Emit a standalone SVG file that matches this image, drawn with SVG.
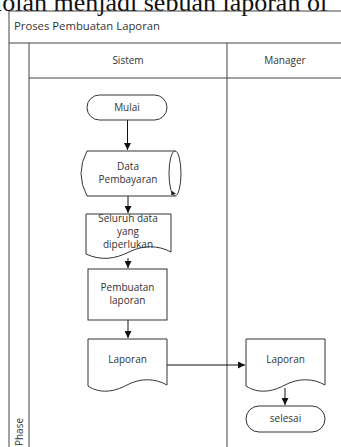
<svg xmlns="http://www.w3.org/2000/svg" width="341" height="447" viewBox="0 0 341 447">
  <defs>
    <marker id="arrow" viewBox="0 0 10 10" refX="10" refY="5" markerWidth="7" markerHeight="7" markerUnits="userSpaceOnUse" orient="auto">
      <path d="M0,0 L10,5 L0,10 Z" fill="#111"/>
    </marker>
    <style>
      .frame { fill: none; stroke: #444; stroke-width: 1; }
      .shape { fill: #fff; stroke: #333; stroke-width: 1; }
      .edge { fill: none; stroke: #111; stroke-width: 1; marker-end: url(#arrow); }
      .lbl { font-family: "Open Sans", "Noto Sans", sans-serif; font-size: 10px; fill: #333; text-anchor: middle; }
      .caption { font-family: "Liberation Serif", serif; font-size: 26px; fill: #111; }
    </style>
  </defs>

  <rect width="341" height="447" fill="#fff"/>

  <!-- running text of the page above the swimlane -->
  <text class="caption" x="-18" y="11">diolah menjadi sebuah laporan ol</text>

  <!-- swimlane frame -->
  <g id="pool">
    <path class="frame" d="M9,447 V11 H341"/>
    <line class="frame" x1="9" y1="43" x2="341" y2="43"/>
    <line class="frame" x1="29" y1="43" x2="29" y2="447"/>
    <line class="frame" x1="29" y1="78" x2="341" y2="78"/>
    <line class="frame" x1="227" y1="43" x2="227" y2="447"/>
    <text class="lbl" x="14" y="30" style="text-anchor:start" textLength="146" lengthAdjust="spacingAndGlyphs">Proses Pembuatan Laporan</text>
    <text class="lbl" x="128" y="64">Sistem</text>
    <text class="lbl" x="285" y="64">Manager</text>
    <text class="lbl" transform="translate(23,432) rotate(-90)">Phase</text>
  </g>

  <!-- connectors -->
  <g id="connectors">
    <line class="edge" x1="127.5" y1="120" x2="127.5" y2="150"/>
    <line class="edge" x1="128" y1="196" x2="128" y2="213"/>
    <line class="edge" x1="128" y1="258" x2="128" y2="268"/>
    <line class="edge" x1="128" y1="320" x2="128" y2="338"/>
    <line class="edge" x1="167" y1="365" x2="245" y2="365"/>
    <line class="edge" x1="285" y1="388" x2="285" y2="405"/>
  </g>

  <g id="mulai">
    <rect class="shape" x="87" y="95" width="80" height="25" rx="12.5"/>
    <text class="lbl" x="127" y="111">Mulai</text>
  </g>

  <g id="data-pembayaran">
    <path class="shape" d="M87,151 H175 A6,22.5 0 0 1 175,196 H87 Q75,173.5 87,151 Z"/>
    <path class="shape" d="M175,151 A6,22.5 0 0 0 175,196" fill="none"/>
    <path d="M172,191 L176,194 L171,195 Z" fill="#111"/>
    <text class="lbl" x="128" y="170">Data</text>
    <text class="lbl" x="128" y="183">Pembayaran</text>
  </g>

  <g id="seluruh-data">
    <path class="shape" d="M86,214 H171 V252 C158,245 143,245 129,252 S101,261 86,254 Z"/>
    <text class="lbl" x="128" y="222">Seluruh data</text>
    <text class="lbl" x="128" y="235">yang</text>
    <text class="lbl" x="128" y="248">diperlukan</text>
  </g>

  <g id="pembuatan-laporan">
    <rect class="shape" x="88" y="269" width="79" height="51"/>
    <text class="lbl" x="127.5" y="291">Pembuatan</text>
    <text class="lbl" x="127.5" y="304">laporan</text>
  </g>

  <g id="laporan-sistem">
    <path class="shape" d="M88,339 H167 V385 C155,378 140,378 127,385 S100,394 88,386 Z"/>
    <text class="lbl" x="127.5" y="363">Laporan</text>
  </g>

  <g id="laporan-manager">
    <path class="shape" d="M246,339 H325 V385 C313,378 298,378 285,385 S258,394 246,386 Z"/>
    <text class="lbl" x="285.5" y="363">Laporan</text>
  </g>

  <g id="selesai">
    <rect class="shape" x="246" y="406" width="79" height="26" rx="13"/>
    <text class="lbl" x="285.5" y="422">selesai</text>
  </g>
</svg>
